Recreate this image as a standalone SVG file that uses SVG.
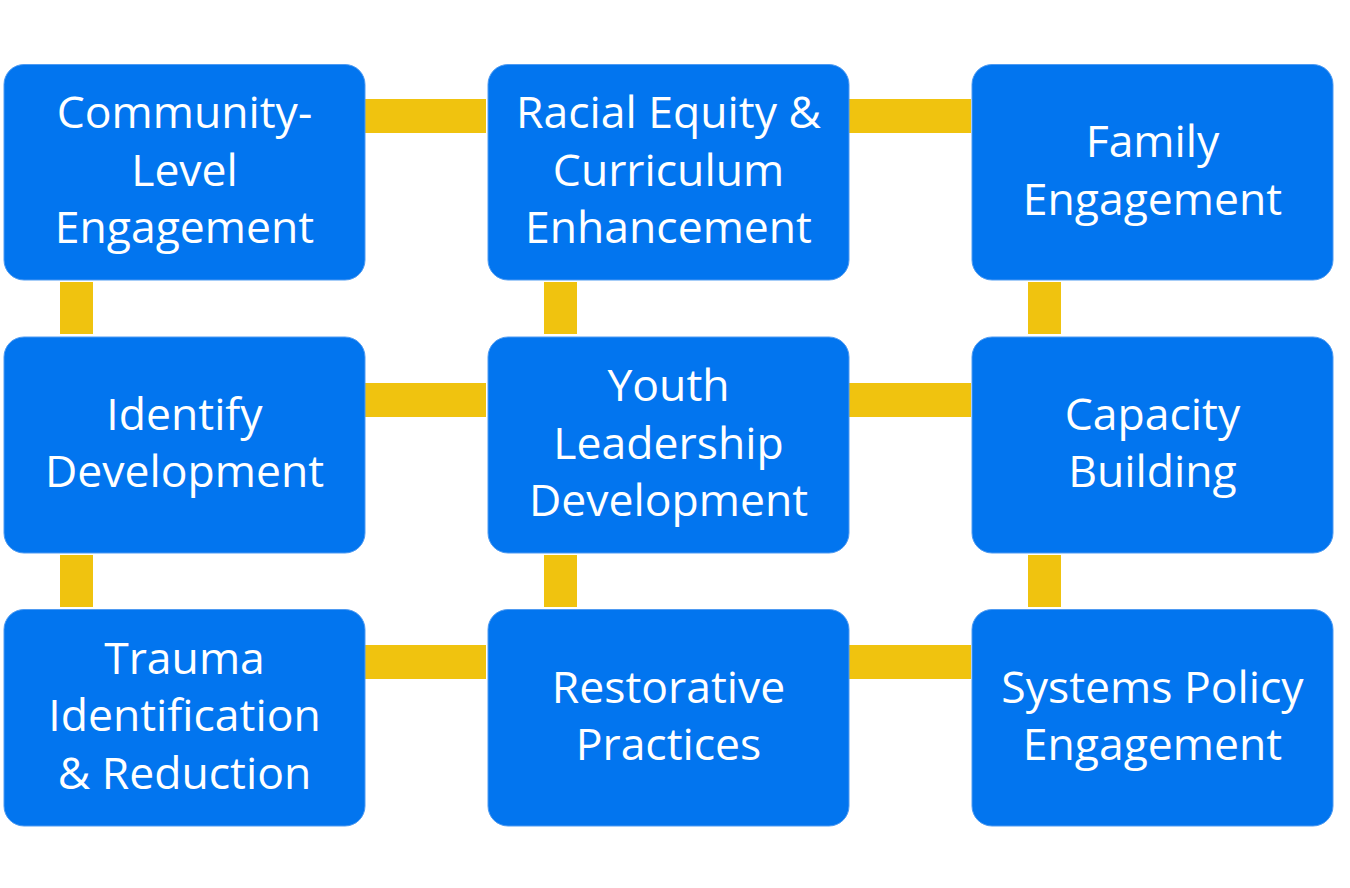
<svg xmlns="http://www.w3.org/2000/svg" width="1350" height="888" viewBox="0 0 1350 888">
<style>
.box{fill:#0275EF;stroke:#4F9BF2;stroke-width:1}
.bar{fill:#F0C30F}
.t{font-family:"Open Sans","Liberation Sans",sans-serif;font-size:44.5px;fill:#FFFFFF;text-anchor:middle}
</style>
<rect width="1350" height="888" fill="#FFFFFF"/>
<g id="connectors">
<rect class="bar" x="365" y="99" width="121" height="34"/>
<rect class="bar" x="849" y="99" width="122" height="34"/>
<rect class="bar" x="365" y="383" width="121" height="34"/>
<rect class="bar" x="849" y="383" width="122" height="34"/>
<rect class="bar" x="365" y="645" width="121" height="34"/>
<rect class="bar" x="849" y="645" width="122" height="34"/>
<rect class="bar" x="60" y="282" width="33" height="52"/>
<rect class="bar" x="544" y="282" width="33" height="52"/>
<rect class="bar" x="1028" y="282" width="33" height="52"/>
<rect class="bar" x="60" y="555" width="33" height="52"/>
<rect class="bar" x="544" y="555" width="33" height="52"/>
<rect class="bar" x="1028" y="555" width="33" height="52"/>
</g>
<g id="n1"><rect class="box" x="4" y="64.5" width="361" height="215.5" rx="20"/>
<text class="t" x="184.5" y="128">Community-</text><text class="t" x="184.5" y="185.5">Level</text><text class="t" x="184.5" y="243">Engagement</text></g>
<g id="n2"><rect class="box" x="488" y="64.5" width="361" height="215.5" rx="20"/>
<text class="t" x="668.5" y="128">Racial Equity &amp;</text><text class="t" x="668.5" y="185.5">Curriculum</text><text class="t" x="668.5" y="243">Enhancement</text></g>
<g id="n3"><rect class="box" x="972" y="64.5" width="361" height="215.5" rx="20"/>
<text class="t" x="1152.5" y="157">Family</text><text class="t" x="1152.5" y="214.5">Engagement</text></g>
<g id="n4"><rect class="box" x="4" y="337" width="361" height="216" rx="20"/>
<text class="t" x="184.5" y="429.5">Identify</text><text class="t" x="184.5" y="487">Development</text></g>
<g id="n5"><rect class="box" x="488" y="337" width="361" height="216" rx="20"/>
<text class="t" x="668.5" y="401">Youth</text><text class="t" x="668.5" y="458.5">Leadership</text><text class="t" x="668.5" y="516">Development</text></g>
<g id="n6"><rect class="box" x="972" y="337" width="361" height="216" rx="20"/>
<text class="t" x="1152.5" y="429.5">Capacity</text><text class="t" x="1152.5" y="487">Building</text></g>
<g id="n7"><rect class="box" x="4" y="609.5" width="361" height="216.5" rx="20"/>
<text class="t" x="184.5" y="673.5">Trauma</text><text class="t" x="184.5" y="731">Identification</text><text class="t" x="184.5" y="788.5">&amp; Reduction</text></g>
<g id="n8"><rect class="box" x="488" y="609.5" width="361" height="216.5" rx="20"/>
<text class="t" x="668.5" y="702.5">Restorative</text><text class="t" x="668.5" y="760">Practices</text></g>
<g id="n9"><rect class="box" x="972" y="609.5" width="361" height="216.5" rx="20"/>
<text class="t" x="1152.5" y="702.5">Systems Policy</text><text class="t" x="1152.5" y="760">Engagement</text></g>
</svg>
